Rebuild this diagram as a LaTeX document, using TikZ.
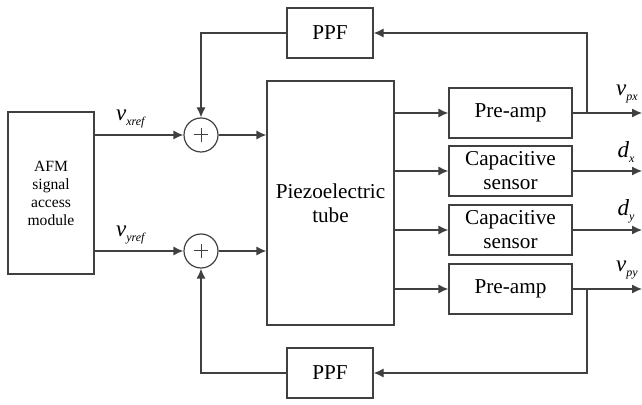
\documentclass[tikz,border=0pt]{standalone}
\usepackage{fontspec}
\setmainfont{Liberation Serif}
\usetikzlibrary{arrows.meta}
\newcommand{\sig}[2]{\textit{#1}\raisebox{-2.4pt}{\fontsize{6}{7}\selectfont\textit{#2}}}
\tikzset{
  blk/.style={draw=black!75, line width=0.6pt, inner sep=0pt, align=center,
    font=\fontsize{10.6}{12}\selectfont},
  sumnode/.style={draw=black!75, line width=0.6pt, circle, minimum size=17pt, inner sep=0pt,
    path picture={\draw[black!75, line width=0.5pt]
      ([xshift=-3.6pt]path picture bounding box.center) -- ([xshift=3.6pt]path picture bounding box.center)
      ([yshift=-3.6pt]path picture bounding box.center) -- ([yshift=3.6pt]path picture bounding box.center);}},
  wire/.style={draw=black!75, line width=0.6pt, -{Latex[length=5pt,width=4.5pt]}},
  lbl/.style={font=\fontsize{11.5}{13}\selectfont, inner sep=0pt}
}
\begin{document}
\begin{tikzpicture}[x=0.5pt, y=-0.5pt]
  \useasboundingbox (0,0) rectangle (642,405);
  % blocks
  \node[blk, minimum width=43pt, minimum height=81pt, font=\fontsize{7.8}{9}\selectfont] (afm) at (51,193) {AFM\\signal\\access\\module};
  \node[blk, minimum width=63.5pt, minimum height=122pt] (tube) at (330.5,203) {Piezoelectric\\tube};
  \node[blk, minimum width=43pt, minimum height=25pt] (ppftop) at (330,33) {PPF};
  \node[blk, minimum width=43pt, minimum height=25pt] (ppfbot) at (330,373) {PPF};
  \node[blk, minimum width=61.5pt, minimum height=25pt] (preampx) at (510.5,113) {Pre-amp};
  \node[blk, minimum width=61.5pt, minimum height=25pt] (capx) at (510.5,171) {Capacitive\\sensor};
  \node[blk, minimum width=61.5pt, minimum height=25pt] (capy) at (510.5,230) {Capacitive\\sensor};
  \node[blk, minimum width=61.5pt, minimum height=25pt] (preampy) at (510.5,289) {Pre-amp};
  \node[sumnode] (sumx) at (201,135) {};
  \node[sumnode] (sumy) at (201,251) {};
  % references in
  \draw[wire] (afm.east |- sumx) -- (sumx);
  \draw[wire] (afm.east |- sumy) -- (sumy);
  \node[lbl] (vxref) at (131,119) {\sig{v}{xref}};
  \node[lbl] (vyref) at (131,235) {\sig{v}{yref}};
  \draw[wire] (sumx) -- (sumx -| tube.west);
  \draw[wire] (sumy) -- (sumy -| tube.west);
  % tube to sensors
  \foreach \b in {preampx, capx, capy, preampy} {
    \draw[wire] (tube.east |- \b) -- (\b);
  }
  % outputs
  \coordinate (vpx) at (642,113);
  \coordinate (dx) at (642,171);
  \coordinate (dy) at (642,230);
  \coordinate (vpy) at (642,289);
  \foreach \b/\o in {preampx/vpx, capx/dx, capy/dy, preampy/vpy} {
    \draw[wire] (\b) -- (\o);
  }
  \node[lbl] (lvpx) at (627,94) {\sig{v}{px}};
  \node[lbl] (ldx) at (626,152) {\sig{d}{x}};
  \node[lbl] (ldy) at (626,211) {\sig{d}{y}};
  \node[lbl] (lvpy) at (627,270) {\sig{v}{py}};
  % feedback paths
  \coordinate (tapx) at (587,113);
  \coordinate (tapy) at (587,289);
  \draw[wire] (tapx) |- (ppftop);
  \draw[wire] (ppftop) -| (sumx);
  \draw[wire] (tapy) |- (ppfbot);
  \draw[wire] (ppfbot) -| (sumy);
\end{tikzpicture}
\end{document}
